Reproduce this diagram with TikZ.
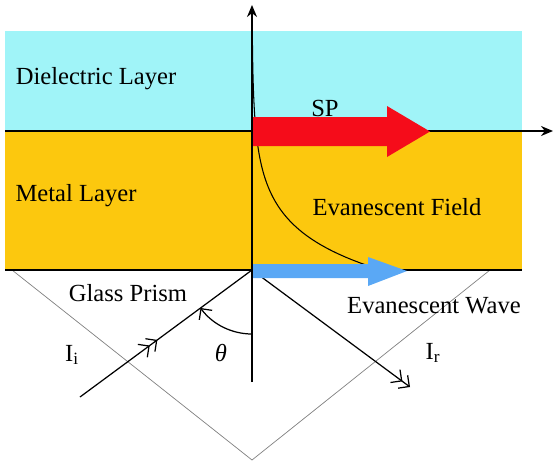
\documentclass[tikz,border=0pt]{standalone}
\usepackage{fontspec}
\setmainfont{Liberation Serif}
\usetikzlibrary{arrows.meta,decorations.markings}
\definecolor{dielectric}{RGB}{160,244,248}
\definecolor{metal}{RGB}{252,200,14}
\definecolor{spred}{RGB}{245,12,26}
\definecolor{wave}{RGB}{90,168,245}
\tikzset{
  label text/.style={font=\rmfamily\fontsize{14}{17}\selectfont, inner sep=0pt},
  axis/.style={line width=0.8pt, -{Stealth[length=2.4mm,width=2mm]}},
  ray/.style={line width=0.7pt},
  barb/.tip={Straight Barb[length=1.6mm,width=3.2mm]},
}

\begin{document}
\begin{tikzpicture}[x=0.02cm, y=-0.02cm]
        \useasboundingbox (0,0) rectangle (558,470);
        \coordinate (O)      at (252,270);
        \coordinate (Otop)   at (252,5);
        \coordinate (Obot)   at (252,382);
        \coordinate (Lleft)  at (5,131);
        \coordinate (Lright) at (553,131);
        \coordinate (Mleft)  at (5,270);
        \coordinate (Mright) at (522,270);
        \coordinate (Pleft)  at (12,270);
        \coordinate (Papex)  at (252,460);
        \coordinate (Pright) at (490,270);
        \coordinate (Isrc)   at (80,397);
        \coordinate (Rend)   at (410,387);
        \coordinate (Astart) at (252,334);
        \fill[dielectric] (5,31) rectangle (522,131);
        \fill[metal] (5,131) rectangle (522,270);
        \draw[line width=0.6pt] plot[domain=31:266, samples=80, variable=\t] ({252+4*exp(0.025*(\t-131))}, \t);
        \draw[gray, line width=0.4pt] (Pleft) -- (Papex) -- (Pright);
        \draw[line width=0.7pt] (Mleft) -- (Mright);
        \draw[axis] (Lleft) -- (Lright);
        \draw[ray, postaction={decorate},
              decoration={markings, mark=at position 0.45 with {\arrow{barb[]barb[]}}}] (Isrc) -- (O);
        \draw[ray, -{barb[]barb[]}] (O) -- (Rend);
        \fill[spred] (252,117) -- (387,117) -- (387,106) -- (430,131.5) -- (387,157) -- (387,146) -- (252,146) -- cycle;
        \fill[wave] (252,264) -- (368,264) -- (368,257) -- (407,271) -- (368,286) -- (368,278) -- (252,278) -- cycle;
        \draw[axis] (Obot) -- (Otop);
        \draw[ray, -{barb[]}] (Astart) arc[start angle=90, end angle=143.6, radius=64];
        \node[label text] (sp)         at (325,108) {SP};
        \node[label text] (field)      at (397,207) {Evanescent Field};
        \node[label text] (prism)      at (128,293) {Glass Prism};
        \node[label text] (wavetext)   at (434,306) {Evanescent Wave};
        \node[label text] (Ii)         at (72,355)  {I\textsubscript{i}};
        \node[label text] (Ir)         at (433,353) {I\textsubscript{r}};
        \node[label text] (theta)      at (221,353) {\textit{θ}};
        \node[label text] (dieltext)   at (96,79)  {Dielectric Layer};
        \node[label text] (metaltext)  at (76,196) {Metal Layer};
    \end{tikzpicture}
\end{document}
